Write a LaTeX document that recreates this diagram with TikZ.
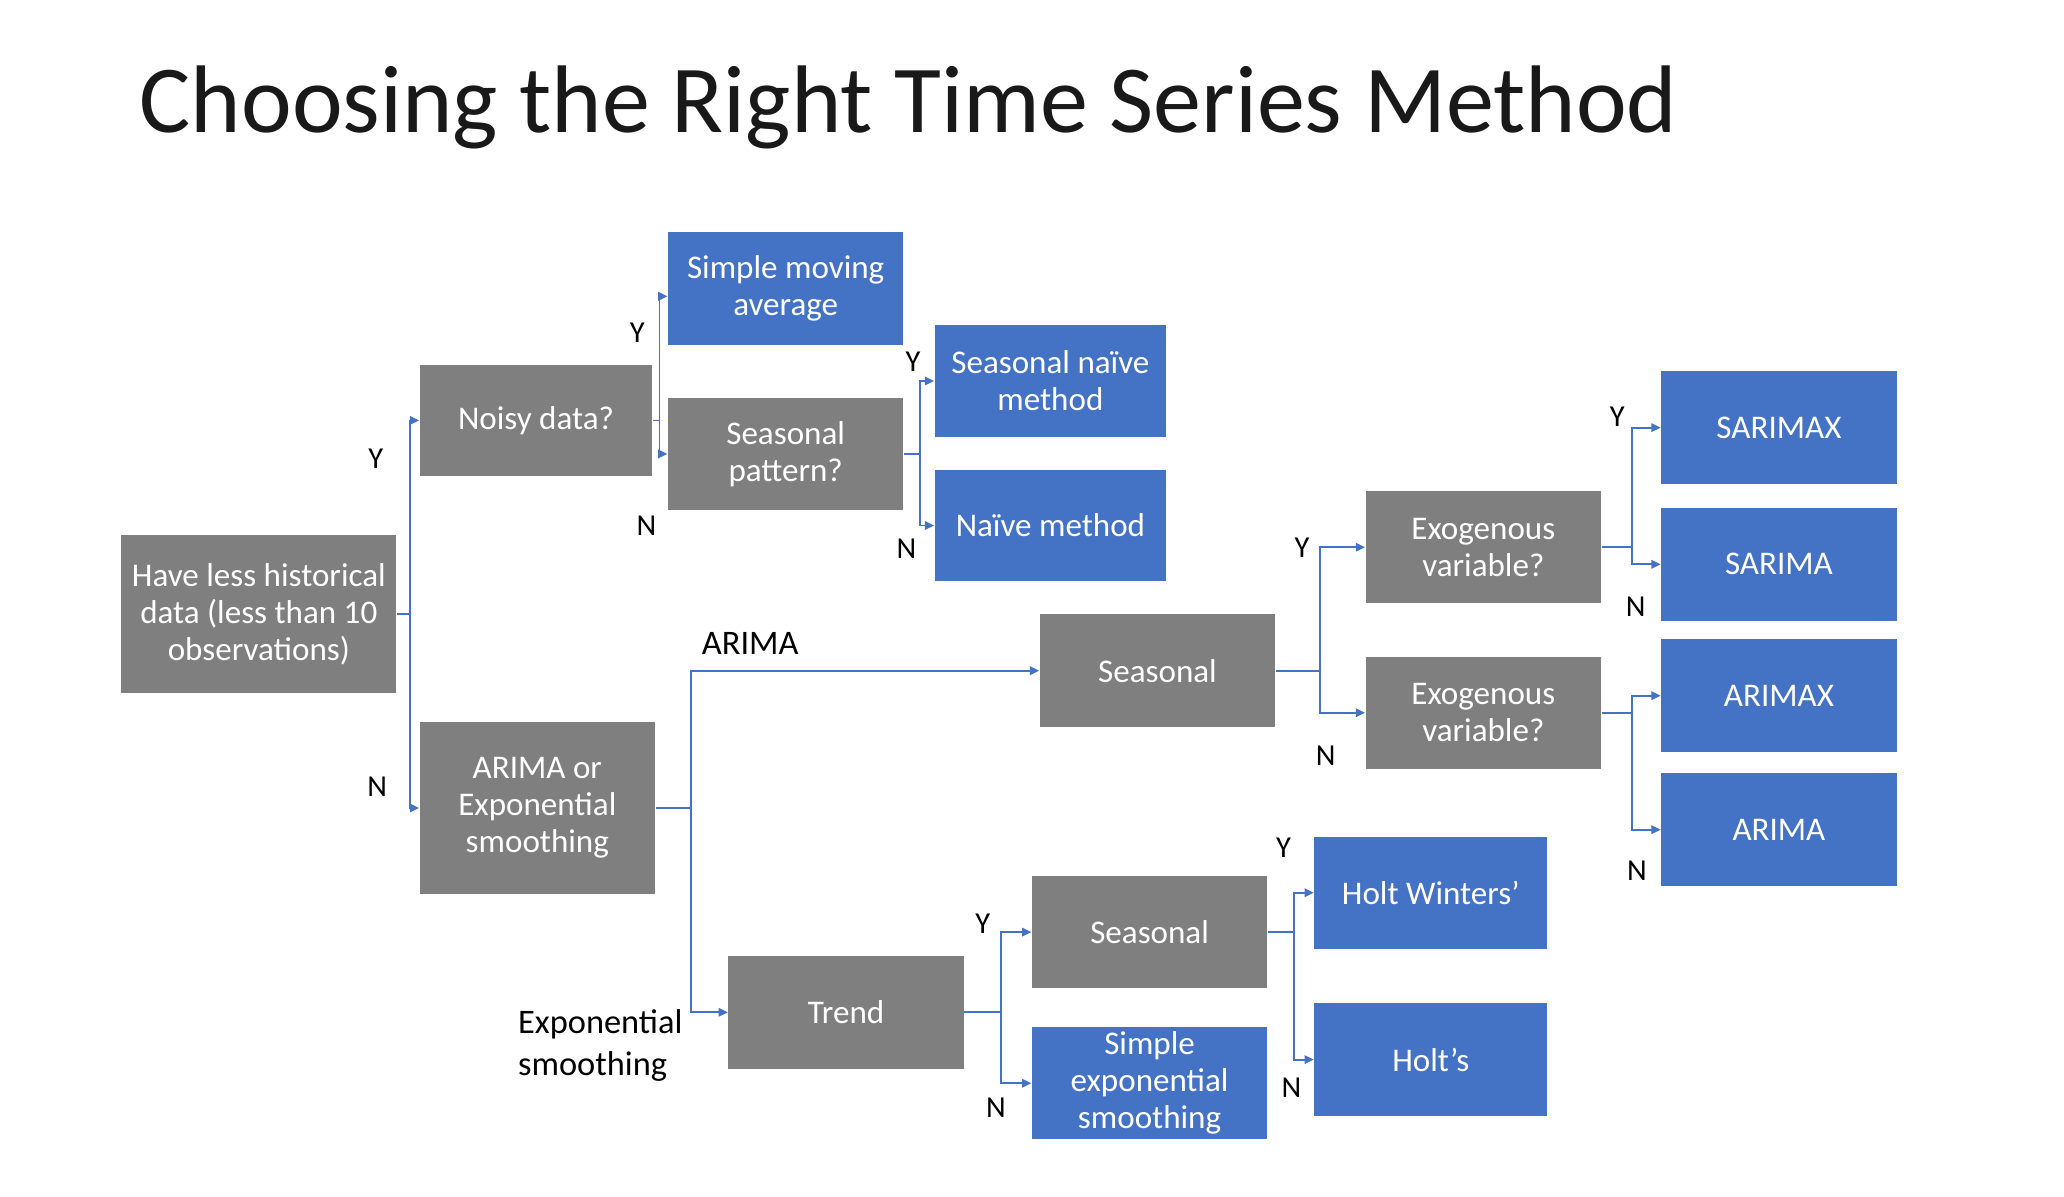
\documentclass[tikz,border=0pt]{standalone}
\usepackage{fontspec}
\setmainfont{Carlito}
\usetikzlibrary{arrows.meta}
\definecolor{boxgray}{HTML}{7F7F7F}
\definecolor{boxblue}{HTML}{4472C4}
\begin{document}
\begin{tikzpicture}[x=0.4965pt,y=-0.4965pt,
  box/.style={draw=none, text=white, align=center, font=\fontsize{12.5}{14}\selectfont, inner sep=0pt, minimum width=89pt, minimum height=42.5pt},
  gbox/.style={box, fill=boxgray},
  bbox/.style={box, fill=boxblue},
  conn/.style={draw=boxblue, line width=0.7pt, -{Triangle[length=3.5pt,width=3.2pt]}},
  link/.style={draw=boxblue, line width=0.7pt},
  yn/.style={font=\fontsize{11.5}{13}\selectfont, inner sep=0pt, text=black},
  lbl/.style={font=\fontsize{13}{16}\selectfont, inner sep=0pt, text=black, align=left},
]
\useasboundingbox (0pt,0pt) rectangle (780pt,-452pt);
\fill[white] (0pt,0pt) rectangle (780pt,-452pt);
\node[anchor=base west, inner sep=0pt, text=black!90, font=\fontsize{36.3}{40}\selectfont] (title) at (106,101) {Choosing the Right Time Series Method};

\node[gbox, minimum width=104pt, minimum height=59.5pt] (H) at (197,467.5) {Have less historical\\data (less than 10\\observations)};
\node[gbox, minimum width=88pt, minimum height=42pt] (N) at (408,320) {Noisy data?};
\node[gbox, minimum height=65pt] (AE) at (409,615) {ARIMA or\\Exponential\\smoothing};
\node[bbox] (SMA) at (598,219.5) {Simple moving\\average};
\node[gbox] (SP) at (598,345.5) {Seasonal\\pattern?};
\node[bbox, minimum width=87.5pt, minimum height=42pt] (SN) at (799.5,290) {Seasonal naïve\\method};
\node[bbox, minimum width=87.5pt, minimum height=42pt] (NM) at (799.5,400) {Naïve method};
\node[gbox] (S1) at (881,510.5) {Seasonal};
\node[gbox] (E1) at (1129,416.5) {Exogenous\\variable?};
\node[gbox] (E2) at (1129,542.5) {Exogenous\\variable?};
\node[bbox] (SX) at (1354,325.5) {SARIMAX};
\node[bbox] (SA) at (1354,429.5) {SARIMA};
\node[bbox] (AX) at (1354,529.5) {ARIMAX};
\node[bbox] (AR) at (1354,631.5) {ARIMA};
\node[gbox] (S2) at (875,709.5) {Seasonal};
\node[gbox] (T) at (644,770.5) {Trend};
\node[bbox] (SES) at (875,824.5) {Simple\\exponential\\smoothing};
\node[bbox, minimum width=88pt] (HW) at (1089,679.5) {Holt Winters’};
\node[bbox, minimum width=88pt] (HS) at (1089,806.5) {Holt’s};

\coordinate (j1) at (312,467.5);
\draw[link] (H.east) -- (j1);
\draw[conn] (j1) |- (N.west);
\draw[conn] (j1) |- (AE.west);

\coordinate (j2) at (502,320);
\draw[link] (N.east) -- (j2);
\draw[conn] (j2) |- ([yshift=-3pt]SMA.west);
\draw[conn] (j2) |- (SP.west);

\coordinate (j3) at (700,345.5);
\draw[link] (SP.east) -- (j3);
\draw[conn] (j3) |- (SN.west);
\draw[conn] (j3) |- (NM.west);

\coordinate (j4) at (526,615);
\draw[link] (AE.east) -- (j4);
\draw[conn] (j4) |- (S1.west);
\draw[conn] (j4) |- (T.west);

\coordinate (j5) at (1005,510.5);
\draw[link] (S1.east) -- (j5);
\draw[conn] (j5) |- (E1.west);
\draw[conn] (j5) |- (E2.west);

\coordinate (j6) at (1242,416.5);
\draw[link] (E1.east) -- (j6);
\draw[conn] (j6) |- (SX.west);
\draw[conn] (j6) |- (SA.west);

\coordinate (j7) at (1242,542.5);
\draw[link] (E2.east) -- (j7);
\draw[conn] (j7) |- (AX.west);
\draw[conn] (j7) |- (AR.west);

\coordinate (j8) at (762,770.5);
\draw[link] (T.east) -- (j8);
\draw[conn] (j8) |- (S2.west);
\draw[conn] (j8) |- (SES.west);

\coordinate (j9) at (985,709.5);
\draw[link] (S2.east) -- (j9);
\draw[conn] (j9) |- (HW.west);
\draw[conn] (j9) |- (HS.west);

\node[yn] (l1) at (286,349) {Y};
\node[yn] (l2) at (287,599) {N};
\node[yn] (l3) at (485,253) {Y};
\node[yn] (l4) at (492,400) {N};
\node[yn] (l5) at (695,275) {Y};
\node[yn] (l6) at (690,418) {N};
\node[yn] (l7) at (991,417) {Y};
\node[yn] (l8) at (1009,575) {N};
\node[yn] (l9) at (1231,317) {Y};
\node[yn] (l10) at (1245,462) {N};
\node[yn] (l11) at (1246,663) {N};
\node[yn] (l12) at (748,703) {Y};
\node[yn] (l13) at (758,843) {N};
\node[yn] (l14) at (977,645) {Y};
\node[yn] (l15) at (983,828) {N};
\node[lbl] (arima) at (571,490) {ARIMA};
\node[lbl, anchor=west] (expo) at (394,796) {Exponential\\smoothing};
\end{tikzpicture}
\end{document}
